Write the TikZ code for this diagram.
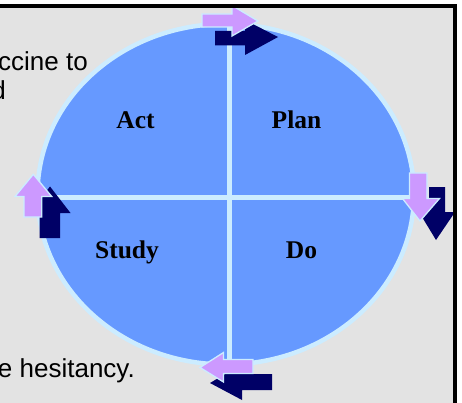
\documentclass[tikz,border=0pt]{standalone}
\usepackage{fontspec}
\setmainfont{Liberation Serif}
\newfontfamily\arialfont{Liberation Sans}
\definecolor{bggrey}{HTML}{E3E3E3}
\definecolor{ringblue}{HTML}{6699FF}
\definecolor{ringedge}{HTML}{CCECFF}
\definecolor{pinkarrow}{HTML}{CC99FF}
\definecolor{navyarrow}{HTML}{000066}
\begin{document}
\begin{tikzpicture}[x=1pt,y=-1pt,
  phase/.style={font=\fontsize{25.5}{28}\selectfont\bfseries, inner sep=0pt, anchor=base},
  sidetext/.style={font=\fontsize{26}{29}\selectfont\arialfont, inner sep=0pt, anchor=base east},
  ring/.style={fill=ringblue, draw=ringedge, line width=4.5pt},
  divider/.style={draw=ringedge, line width=4.5pt},
  lightarrow/.style={fill=pinkarrow, draw=ringedge, line width=1.3pt, line join=miter},
  darkarrow/.style={fill=navyarrow, draw=none},
  frame/.style={draw=black, line width=4pt}]
\useasboundingbox (0,0) rectangle (462,403);
\fill[white] (0,0) rectangle (462,403);
\fill[bggrey] (0,6) rectangle (455,403);
% partially hidden side texts
\begin{scope}
  \clip (0,6) rectangle (455,403);
  \node[sidetext] (t1) at (88,71) {ccine to};
  \node[sidetext] (t2) at (6,100) {d};
  \node[sidetext] (t3) at (135,377) {e hesitancy.};
\end{scope}
% cycle
\draw[ring] (225.75,194.2) ellipse [x radius=188.25, y radius=170.3];
\coordinate (top) at (229.5,24);
\coordinate (bottom) at (229.5,364.5);
\coordinate (left) at (37.5,197.5);
\coordinate (right) at (414,197.5);
\draw[divider] (top) -- (bottom);
\draw[divider] (left) -- (right);
\node[phase] (act) at (135.5,129) {Act};
\node[phase] (plan) at (296.5,128.5) {Plan};
\node[phase] (study) at (127,258) {Study};
\node[phase] (do) at (301.5,258.5) {Do};
% dark arrows
\fill[darkarrow] (215,31) -- (245,31) -- (245,20) -- (278,37) -- (245,55) -- (245,45.5) -- (215,45.5) -- cycle;
\fill[darkarrow] (429,187) -- (445,187) -- (445,212) -- (455,212) -- (436,240) -- (419,212) -- (429,212) -- cycle;
\fill[darkarrow] (272,374) -- (242,374) -- (242,364) -- (210,383) -- (242,400) -- (242,390) -- (272,390) -- cycle;
\fill[darkarrow] (39.5,238) -- (39.5,213) -- (29.5,213) -- (50,186.5) -- (70.5,213) -- (60,213) -- (60,238) -- cycle;
% light arrows
\draw[lightarrow] (202,14) -- (232,14) -- (232,5.5) -- (258,21) -- (232,36) -- (232,27) -- (202,27) -- cycle;
\draw[lightarrow] (409.5,173) -- (427,173) -- (427,198.5) -- (439.5,198.5) -- (420,221) -- (402.5,198.5) -- (409.5,198.5) -- cycle;
\draw[lightarrow] (253,359.5) -- (223.5,359.5) -- (223.5,352.5) -- (200,367.5) -- (223.5,382) -- (223.5,373.5) -- (253,373.5) -- cycle;
\draw[lightarrow] (24,217) -- (24,196.5) -- (15,196.5) -- (33.3,174.3) -- (51.7,196.5) -- (41.7,196.5) -- (41.7,217) -- cycle;
% frame
\draw[frame] (0,6) -- (455,6) -- (455,403);
\end{tikzpicture}
\end{document}
